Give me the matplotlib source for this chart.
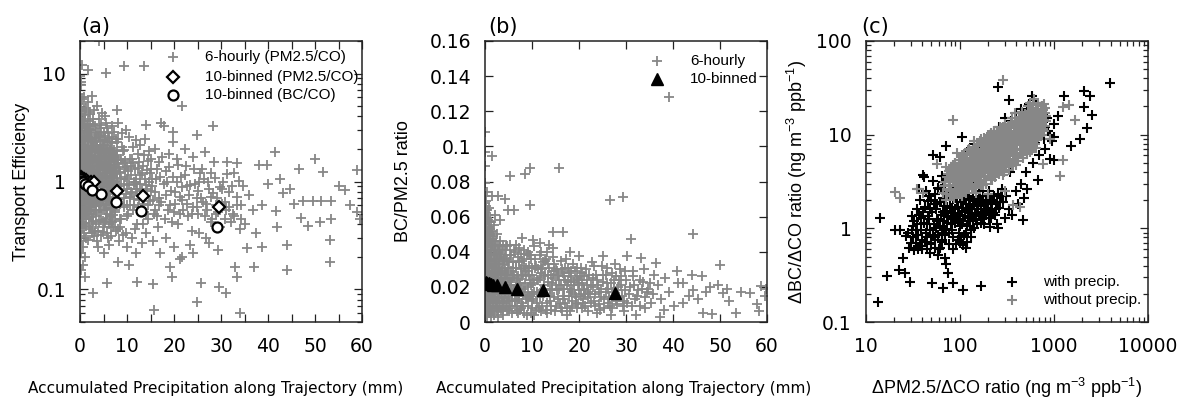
import numpy as np
import matplotlib
matplotlib.use("Agg")
import matplotlib.pyplot as plt
from matplotlib.ticker import MultipleLocator, FixedLocator, FuncFormatter, LogLocator, NullFormatter

plt.rcParams['font.family'] = ['DejaVu Sans']
plt.rcParams['mathtext.fontset'] = 'custom'
plt.rcParams['mathtext.rm'] = 'Liberation Sans'
plt.rcParams['mathtext.it'] = 'Liberation Sans'

GRAY = '#878787'
LAB = ['Liberation Sans', 'DejaVu Sans']

# ---------------- Panel (a): transport efficiency vs precipitation ----------------
a_hourly = [
    (0.1,2.1),(0.3,1.6),(0.2,0.9),(0.5,3.2),(0.4,0.55),(0.7,1.3),(0.9,2.6),(0.6,0.7),(1.1,1.8),(1.3,0.45),
    (1.0,4.1),(1.5,1.1),(1.8,2.2),(1.6,0.62),(2.0,3.0),(2.2,0.85),(2.5,1.5),(2.8,0.5),(2.4,2.7),(2.9,1.2),
    (0.2,5.2),(0.1,0.35),(0.3,0.28),(0.8,0.4),(1.2,0.3),(1.9,0.38),(2.6,0.33),(0.4,4.5),(0.9,3.8),(1.4,3.3),
    (0.15,1.25),(0.35,1.9),(0.55,2.4),(0.75,0.95),(0.95,1.55),(1.15,0.8),(1.35,2.0),(1.55,1.35),(1.75,0.72),(1.95,1.7),
    (2.15,1.05),(2.35,0.65),(2.55,2.0),(2.75,0.9),(2.95,2.3),(0.05,0.75),(0.25,0.5),(0.45,1.45),(0.65,3.6),(0.85,2.0),
    (1.05,0.58),(1.25,1.25),(1.45,0.5),(1.65,2.8),(1.85,1.0),(2.05,0.55),(2.25,1.9),(2.45,1.2),(2.65,0.75),(2.85,3.4),
    (0.1,6.5),(0.3,7.8),(0.2,0.22),(0.6,0.25),(1.0,0.2),(0.05,9.5),(0.5,5.8),(1.3,4.8),(2.2,4.2),(1.7,5.5),
    (0.7,0.5),(1.1,1.0),(1.6,1.9),(2.1,1.4),(2.6,1.1),(0.35,0.65),(0.85,1.1),(1.35,0.68),(1.85,0.45),(2.35,3.0),
    (3.1,1.7),(3.3,0.6),(3.5,2.5),(3.7,0.9),(3.9,1.3),(4.1,0.42),(4.3,3.1),(4.5,1.9),(4.7,0.7),(4.9,1.1),
    (5.1,2.2),(5.3,0.55),(5.5,1.5),(5.7,0.8),(5.9,2.8),(6.1,1.0),(6.3,0.48),(6.5,1.7),(6.7,0.65),(6.9,1.3),
    (3.2,0.35),(3.6,0.28),(4.0,3.8),(4.4,0.32),(4.8,2.4),(5.2,0.38),(5.6,3.5),(6.0,0.3),(6.4,2.3),(6.8,0.42),
    (3.4,1.15),(3.8,2.0),(4.2,0.75),(4.6,1.45),(5.0,0.6),(5.4,1.2),(5.8,0.5),(6.2,1.6),(6.6,0.95),(3.0,4.6),
    (3.5,0.48),(4.0,1.6),(4.5,0.55),(5.0,2.9),(5.5,0.45),(6.0,2.0),(6.5,0.38),(3.3,2.9),(4.8,0.88),(5.8,1.25),
    (3.9,0.25),(5.1,0.22),(6.2,0.26),(4.6,4.3),(3.6,5.0),(6.9,3.3),(5.3,4.0),(3.1,0.8),(4.3,1.0),(6.6,1.1),
    (7.2,1.5),(7.5,0.55),(7.9,2.3),(8.2,0.9),(8.5,1.2),(8.8,0.45),(9.1,1.9),(9.4,0.7),(9.7,3.0),(10.0,1.05),
    (10.3,0.5),(10.6,1.6),(10.9,0.8),(11.2,2.1),(11.5,0.6),(11.8,1.3),(12.1,0.4),(12.4,1.8),(12.7,0.95),(13.0,0.55),
    (13.3,1.4),(13.6,0.7),(13.9,2.5),(14.2,0.85),(14.5,0.45),(14.8,1.2),(7.6,0.35),(8.4,0.28),(9.2,0.32),(10.1,0.25),
    (11.0,0.3),(12.0,0.22),(13.1,0.27),(14.0,0.33),(7.8,4.6),(8.0,3.5),(9.0,2.8),(10.5,2.6),(12.8,2.2),(14.6,1.9),
    (7.3,1.0),(8.7,1.6),(9.9,0.6),(11.4,1.0),(12.6,0.68),(13.8,1.05),(7.1,0.7),(9.5,1.3),(11.9,0.85),(14.4,0.6),
    (15.3,0.9),(15.8,0.5),(16.4,1.3),(16.9,0.7),(17.5,1.7),(18.0,0.45),(18.6,1.0),(19.2,0.6),(19.8,2.3),(20.3,0.8),
    (20.9,0.4),(21.5,1.1),(22.0,0.55),(22.6,1.4),(23.2,0.75),(23.8,0.35),(24.4,0.95),(25.0,0.5),(25.6,1.2),(26.2,0.65),
    (26.8,0.3),(27.4,0.85),(28.0,0.45),(28.6,1.5),(29.2,0.7),(29.8,0.38),(30.4,1.0),(31.0,0.55),(31.6,0.8),(32.2,0.42),
    (32.8,1.2),(33.4,0.6),(34.0,0.36),(34.6,0.9),(15.6,0.28),(17.0,0.22),(18.3,0.3),(20.1,0.25),(21.8,0.2),(23.5,0.26),
    (16.0,2.0),(17.8,3.3),(18.9,1.8),(20.6,1.6),(22.4,2.0),(24.1,1.7),(26.0,1.3),(27.8,1.2),(16.8,0.6),(19.5,0.42),
    (21.2,0.72),(23.0,0.48),(24.8,0.7),(27.0,0.55),(28.9,0.6),(30.9,0.65),(32.5,0.5),(34.3,0.45),(15.2,1.6),(25.3,0.33),
    (4.0,19.8),(1.8,10.7),(5.5,10.1),(9.3,11.8),(13.7,11.7),(21.6,5.0),(17.2,3.47),(28.3,3.3),(24.8,2.7),(26.6,1.88),
    (19.7,2.9),(14.0,3.35),(41.5,1.88),(49.9,1.63),(58.9,1.27),(51.7,1.22),(46.6,1.3),(39.8,1.41),(38.0,1.43),(33.3,1.47),
    (31.2,1.5),(56.4,0.84),(51.3,0.66),(53.5,0.66),(49.6,0.66),(47.5,0.66),(44.6,0.85),(43.2,0.78),(41.8,0.53),(38.7,0.6),
    (36.8,0.55),(47.1,0.46),(48.5,0.39),(51.1,0.42),(53.3,0.45),(58.9,0.52),(53.1,0.29),(44.0,0.26),(38.7,0.25),(53.1,0.18),
    (44.0,0.15),(37.0,0.16),(33.0,0.16),(33.5,0.13),(29.5,0.105),(31.0,0.092),(25.8,0.115),(24.8,0.077),(34.1,0.06),(15.8,0.065),
    (12.2,0.118),(15.6,0.113),(5.8,0.115),(2.8,0.092),(19.5,0.13),(19.2,0.16),(21.2,0.19),(24.0,0.22),(27.5,0.27),(29.4,0.23),
    (0.3,0.15),(1.0,0.13),(0.6,0.17),(8.0,0.18),(10.5,0.17),(40.0,0.95),(42.5,1.05),(36.0,0.75),(45.5,0.62),(55.0,0.9),
    (59.5,0.45),(57.5,0.6),(37.5,0.33),(42.0,0.38),(35.5,0.24),(0.8,6.0),(2.5,6.2),(0.4,12.0),(0.2,8.4),
]
a_hourly_core = [
    (0.22,1.35),(0.58,0.78),(1.03,2.45),(1.47,0.92),(1.92,0.61),(2.31,1.62),(2.77,2.05),(3.18,0.71),(3.64,1.48),(4.09,0.52),
    (4.55,2.15),(5.02,1.32),(5.48,0.67),(5.93,1.83),(6.41,0.88),(6.86,2.6),(7.3,1.18),(7.74,0.6),(0.12,0.42),(0.49,2.85),
    (0.93,1.14),(1.38,1.72),(1.81,3.05),(2.26,0.47),(2.71,1.28),(3.13,2.52),(3.57,1.02),(4.02,0.63),(4.46,1.71),(4.93,0.43),
    (5.37,2.65),(5.82,0.97),(6.27,1.42),(6.73,0.56),(7.18,1.95),(7.62,0.83),(0.31,1.08),(0.74,1.83),(1.19,0.68),(1.63,2.35),
    (2.08,1.21),(2.52,0.58),(2.98,1.66),(3.42,0.84),(3.87,2.8),(4.31,1.27),(4.77,0.74),(5.21,1.63),(5.66,2.3),(6.12,0.61),
    (6.57,1.22),(7.03,0.49),(7.47,1.57),(7.91,1.08),(0.08,1.55),(0.41,0.62),(0.86,2.2),(1.29,1.46),(1.72,0.53),(2.17,2.6),
    (2.61,0.96),(3.06,1.35),(3.51,0.59),(3.96,1.88),(4.41,0.91),(4.86,1.5),(5.31,0.79),(5.76,1.08),(6.21,2.55),(6.66,1.58),
    (7.11,0.83),(7.56,2.45),(0.18,0.62),(0.63,1.17),(1.08,0.49),(1.53,2.65),(1.98,1.33),(2.43,0.73),(2.88,0.63),(3.33,1.98),
    (3.78,1.18),(4.23,2.35),(4.68,1.06),(5.13,0.72),(5.58,1.95),(6.03,1.37),(6.48,0.77),(6.93,1.85),(7.38,0.52),(7.83,1.45),
    (0.27,2.55),(0.71,0.41),(1.16,1.62),(1.61,0.82),(2.06,1.97),(2.51,1.38),(2.96,0.86),(3.41,1.55),(3.86,0.69),(4.33,1.95),
    (4.76,1.28),(5.23,1.02),(5.64,0.57),(6.11,1.73),(6.56,2.05),(7.01,1.12),(7.46,0.71),(7.94,1.92),(0.36,3.35),(0.81,1.29),
    (1.26,0.88),(1.71,1.52),(2.16,0.71),(2.63,2.25),(3.04,0.54),(3.53,1.27),(3.94,0.97),(4.43,2.7),(4.84,0.66),(5.33,1.43),
    (5.74,0.92),(6.23,1.07),(6.64,0.47),(7.13,1.41),(7.54,1.02),(0.04,2.75),(0.13,3.9),(0.52,1.7),(0.97,0.73),(1.42,2.05),
    (1.87,1.31),(2.32,0.93),(2.77,1.53),(3.22,1.08),(3.67,2.2),(4.12,1.42),(4.57,0.83),(5.02,1.76),(5.47,1.12),(5.92,0.71),
    (6.37,1.95),(6.82,0.93),(7.27,1.68),(7.72,1.25),(0.44,0.88),(0.89,0.58),(1.34,1.04),(1.79,2.6),(2.24,1.76),(2.69,0.43),
    (0.02,1.15),(0.06,0.58),(0.09,3.2),(0.14,0.97),(0.17,1.82),(0.24,0.71),(0.29,4.2),(0.33,1.28),(0.38,2.2),(0.46,1.03),
    (0.53,0.47),(0.61,2.05),(0.68,1.42),(0.77,0.86),(0.83,3.1),(0.91,1.66),(0.99,0.52),(1.07,1.33),(1.14,2.9),(1.22,0.96),
    (1.31,1.87),(1.44,0.74),(1.56,1.24),(1.67,3.6),(1.77,0.86),(1.89,1.95),(2.01,0.66),(2.12,1.58),(2.21,3.4),(2.37,1.13),
    (8.3,1.35),(8.6,0.62),(8.9,2.1),(9.3,0.95),(9.6,1.55),(9.9,0.48),(10.3,1.25),(10.7,0.72),(11.1,1.62),(11.5,0.95),
    (11.9,2.4),(12.3,0.58),(12.8,1.15),(13.2,0.82),(13.7,1.75),(14.1,0.5),(14.6,0.98),(15.1,1.3),(15.6,0.68),(16.2,1.05),
    (8.1,0.78),(8.8,1.05),(9.4,1.95),(10.1,0.85),(10.8,1.4),(11.3,0.55),(12.0,1.0),(12.6,1.5),(13.4,0.62),(14.3,1.28),
    (15.0,0.82),(16.0,0.55),(17.1,1.1),(18.2,0.75),(19.0,1.35),(19.9,0.52),(20.7,1.0),(21.6,0.68),(22.8,0.9),(24.0,0.58),
    (25.2,0.82),(26.5,0.48),(27.8,0.72),(29.0,0.5),(30.2,0.85),(8.5,0.38),(9.7,0.33),(11.7,0.36),(13.5,0.4),(16.5,0.38),
]
a_hourly_core2 = [
    (0.16,0.82),(0.39,1.52),(0.62,0.51),(0.84,1.25),(1.12,2.1),(1.37,0.57),(1.58,1.05),(1.83,1.62),(2.09,0.79),(2.33,2.35),
    (2.58,1.23),(2.83,0.71),(3.09,1.92),(3.34,1.02),(3.58,0.68),(3.83,1.64),(4.08,1.08),(4.32,0.59),(4.57,1.38),(4.82,2.05),
    (5.07,0.89),(5.32,1.71),(5.57,0.62),(5.82,1.46),(6.07,0.81),(6.32,1.24),(6.57,0.57),(6.82,1.66),(7.07,0.98),(7.32,1.33),
    (7.57,0.64),(7.82,0.92),(8.07,1.58),(8.32,0.69),(8.57,1.22),(8.82,0.84),(9.07,1.47),(9.32,0.58),(9.57,1.1),(9.82,0.77),
    (10.07,1.35),(10.32,0.92),(10.57,0.6),(10.82,1.16),(11.07,0.79),(11.32,1.49),(11.57,0.69),(11.82,1.05),(12.07,0.85),(12.32,1.32),
    (0.21,0.31),(0.53,0.37),(0.88,0.33),(1.27,0.39),(1.68,0.29),(2.11,0.36),(2.57,0.41),(3.01,0.31),(3.47,0.4),(3.92,0.35),
    (4.38,0.44),(4.83,0.34),(5.29,0.42),(5.74,0.33),(6.19,0.4),(6.64,0.31),(7.09,0.38),(7.54,0.43),(7.99,0.36),(8.45,0.45),
    (0.15,3.7),(0.47,2.3),(0.79,4.6),(1.14,3.4),(1.52,2.95),(1.91,4.4),(2.27,2.45),(2.68,3.8),(3.12,3.25),(3.55,2.15),
    (3.99,2.6),(4.45,3.35),(4.91,1.85),(5.36,2.4),(5.84,3.15),(6.29,1.9),(6.76,2.25),(7.21,2.9),(7.68,1.75),(8.14,2.5),
    (0.07,1.95),(0.34,0.82),(0.56,1.22),(0.79,0.63),(1.01,1.88),(1.24,1.15),(1.49,0.77),(1.74,1.38),(2.02,1.08),(2.28,0.55),
    (2.54,1.74),(2.81,1.02),(3.07,0.79),(3.36,1.24),(3.62,1.87),(3.89,0.82),(4.17,1.16),(4.44,1.52),(4.71,0.96),(4.99,0.67),
    (5.26,1.27),(5.54,1.82),(5.81,1.2),(6.08,0.72),(6.36,1.52),(6.63,0.85),(6.91,1.12),(7.19,0.61),(7.46,1.28),(7.74,1.68),
    (12.7,0.75),(13.1,1.2),(13.6,0.52),(14.0,0.93),(14.5,1.55),(14.9,0.66),(15.4,1.05),(15.9,0.8),(16.4,0.48),(16.8,1.5),
    (17.3,0.65),(17.8,0.95),(18.3,1.25),(18.8,0.55),(19.3,0.82),(19.8,1.1),(20.3,0.62),(20.8,1.42),(21.3,0.5),(21.8,0.88),
    (22.3,1.15),(22.8,0.62),(23.3,0.92),(23.8,0.5),(24.3,1.3),(24.8,0.58),(25.3,0.98),(25.8,0.7),(26.3,1.05),(26.8,0.62),
    (27.3,0.98),(27.8,0.42),(28.3,0.78),(28.8,1.08),(29.3,0.52),(29.8,0.88),(30.3,0.62),(30.8,0.45),(31.3,1.18),(31.8,0.58),
    (32.3,0.9),(32.8,0.48),(33.3,0.72),(33.8,1.02),(34.3,0.6),(35.0,0.4),
]
a_bin_pm_x = [0.2, 0.5, 0.8, 1.2, 1.7, 2.3, 3.0, 7.8, 13.5, 29.6]
a_bin_pm_y = [1.1, 1.08, 1.05, 1.03, 1.0, 0.98, 1.0, 0.82, 0.73, 0.58]
a_bin_bc_x = [0.2, 0.4, 0.6, 1.0, 1.6, 2.6, 4.4, 7.6, 13.0, 29.1]
a_bin_bc_y = [1.05, 1.02, 1.0, 0.95, 0.9, 0.83, 0.76, 0.65, 0.53, 0.38]

# ---------------- Panel (b): BC/PM2.5 ratio vs precipitation ----------------
b_hourly = [
    (0.12,0.004),(0.47,0.013),(0.08,0.021),(0.93,0.029),(0.31,0.037),(1.42,0.008),(0.66,0.045),(1.87,0.018),(0.19,0.052),(2.36,0.026),
    (1.11,0.033),(2.91,0.011),(0.54,0.061),(3.28,0.022),(1.63,0.041),(3.74,0.006),(2.07,0.031),(0.83,0.015),(4.21,0.017),(2.58,0.039),
    (0.27,0.069),(4.66,0.028),(1.29,0.024),(3.05,0.034),(0.71,0.007),(5.12,0.013),(1.96,0.009),(3.52,0.027),(0.39,0.019),(5.58,0.021),
    (2.44,0.046),(0.97,0.049),(4.03,0.036),(1.74,0.014),(2.83,0.003),(0.15,0.031),(4.49,0.009),(1.18,0.057),(3.36,0.016),(0.58,0.025),
    (5.87,0.031),(2.19,0.019),(0.86,0.038),(3.91,0.023),(1.52,0.028),(0.04,0.044),(4.88,0.019),(2.67,0.014),(1.33,0.005),(3.63,0.041),
    (0.44,0.009),(5.35,0.024),(2.02,0.055),(0.76,0.021),(4.31,0.03),(1.07,0.012),(3.17,0.008),(0.23,0.016),(2.74,0.024),(1.81,0.036),
    (5.01,0.006),(0.62,0.033),(3.83,0.012),(1.46,0.047),(2.29,0.011),(0.09,0.027),(4.59,0.035),(1.24,0.003),(0.37,0.041),(2.95,0.029),
    (0.18,0.062),(1.68,0.022),(3.44,0.019),(0.81,0.054),(2.51,0.008),(4.12,0.025),(0.51,0.004),(5.71,0.016),(1.39,0.031),(3.09,0.043),
    (0.29,0.048),(2.13,0.035),(0.69,0.017),(4.77,0.012),(1.91,0.026),(0.06,0.009),(3.58,0.031),(1.02,0.041),(2.61,0.018),(0.42,0.023),
    (0.03,0.056),(0.11,0.064),(0.21,0.059),(0.07,0.072),(0.33,0.051),(1.57,0.052),(0.89,0.065),(0.16,0.035),(2.39,0.033),(1.21,0.016),
    (0.0,0.108),(0.1,0.097),(1.4,0.0948),(0.05,0.089),(5.3,0.083),(0.4,0.074),(1.5,0.072),(2.8,0.072),(4.3,0.07),(8.5,0.084),
    (9.6,0.0875),(15.8,0.0875),(6.2,0.0638),(9.6,0.0666),(4.9,0.064),(2.1,0.061),(3.2,0.058),
    (6.3,0.012),(6.8,0.025),(7.2,0.034),(7.6,0.008),(8.1,0.019),(8.4,0.041),(8.9,0.014),(9.3,0.027),(9.8,0.005),(10.2,0.022),
    (10.7,0.031),(11.1,0.011),(11.6,0.038),(12.0,0.018),(12.5,0.026),(12.9,0.007),(13.4,0.033),(13.8,0.015),(14.3,0.022),(14.7,0.029),
    (15.2,0.009),(15.7,0.019),(16.1,0.035),(16.6,0.013),(17.0,0.024),(17.5,0.004),(17.9,0.028),(18.4,0.017),(18.8,0.033),(19.3,0.011),
    (19.7,0.021),(20.2,0.026),(20.6,0.008),(21.1,0.018),(21.5,0.03),(21.9,0.014),(6.6,0.044),(7.9,0.048),(9.1,0.04),(10.4,0.043),
    (11.8,0.045),(13.1,0.04),(14.5,0.037),(6.1,0.018),(7.0,0.005),(8.6,0.029),(9.9,0.016),(11.3,0.024),(12.7,0.035),(14.0,0.009),
    (15.5,0.027),(16.9,0.019),(18.2,0.024),(19.5,0.031),(20.9,0.013),(7.4,0.022),(10.0,0.012),(12.2,0.03),(16.3,0.006),(18.6,0.009),
    (10.3,0.0469),(14.5,0.042),(14.5,0.051),(16.5,0.051),(18.1,0.04),(20.1,0.0377),(9.4,0.038),(11.9,0.006),(13.6,0.044),(17.3,0.036),
    (22.5,0.021),(23.1,0.012),(23.7,0.027),(24.2,0.017),(24.8,0.032),(25.3,0.008),(25.9,0.022),(26.4,0.014),(27.0,0.028),(27.5,0.019),
    (28.1,0.01),(28.6,0.024),(29.2,0.015),(29.7,0.029),(30.3,0.011),(30.8,0.02),(31.4,0.026),(31.9,0.013),(32.5,0.018),(33.0,0.009),
    (33.6,0.023),(34.1,0.014),(34.7,0.019),(35.3,0.011),(35.8,0.016),(22.8,0.034),(25.0,0.0377),(27.6,0.033),(30.3,0.0377),(33.1,0.0364),
    (36.3,0.0335),(31.0,0.047),(26.5,0.0695),(29.3,0.071),(39.2,0.128),(44.2,0.05),(23.9,0.005),(26.8,0.004),(29.5,0.006),(32.2,0.004),
    (36.8,0.021),(37.5,0.013),(38.3,0.025),(39.1,0.017),(40.2,0.009),(41.0,0.022),(42.2,0.0107),(42.2,0.022),(43.5,0.015),(44.3,0.0183),
    (44.0,0.027),(46.1,0.026),(47.9,0.0202),(50.7,0.0164),(56.4,0.0164),(49.6,0.021),(50.1,0.0326),(58.7,0.0206),(59.6,0.015),(53.5,0.0053),
    (58.4,0.0063),(48.2,0.0046),(46.4,0.0054),(52.0,0.012),(54.5,0.017),(45.3,0.013),(38.0,0.007),(40.8,0.029),(36.0,0.027),(33.8,0.03),
    (59.8,0.019),(57.8,0.0105),(51.5,0.019),(47.0,0.017),(37.2,0.003),
]
b_hourly_core = [
    (0.03,0.012),(0.07,0.038),(0.11,0.049),(0.14,0.007),(0.17,0.043),(0.22,0.026),(0.26,0.011),(0.28,0.055),(0.32,0.02),(0.36,0.032),
    (0.41,0.047),(0.45,0.003),(0.49,0.039),(0.53,0.017),(0.57,0.052),(0.61,0.029),(0.64,0.012),(0.68,0.058),(0.72,0.036),(0.78,0.024),
    (0.82,0.045),(0.87,0.006),(0.91,0.019),(0.95,0.033),(0.99,0.053),(1.04,0.027),(1.09,0.008),(1.13,0.046),(1.17,0.022),(1.22,0.038),
    (1.26,0.051),(1.31,0.013),(1.36,0.041),(1.41,0.026),(1.45,0.018),(1.49,0.035),(1.54,0.006),(1.59,0.044),(1.64,0.03),(1.69,0.011),
    (1.73,0.049),(1.78,0.025),(1.84,0.039),(1.89,0.004),(1.94,0.021),(1.99,0.046),(2.04,0.013),(2.09,0.032),(2.14,0.027),(2.21,0.042),
    (2.26,0.009),(2.32,0.038),(2.37,0.018),(2.42,0.03),(2.48,0.05),(2.54,0.023),(2.59,0.012),(2.65,0.036),(2.7,0.044),(2.76,0.016),
    (2.81,0.028),(2.87,0.007),(2.93,0.04),(2.98,0.021),(0.05,0.065),(0.13,0.06),(0.24,0.066),(0.35,0.058),(0.46,0.064),(0.09,0.079),
    (3.05,0.013),(3.13,0.031),(3.22,0.046),(3.31,0.007),(3.39,0.025),(3.48,0.037),(3.57,0.014),(3.66,0.029),(3.75,0.044),(3.84,0.02),
    (3.93,0.004),(4.02,0.033),(4.11,0.011),(4.2,0.041),(4.29,0.021),(4.38,0.016),(4.47,0.038),(4.56,0.027),(4.65,0.007),(4.74,0.043),
    (4.84,0.025),(4.93,0.014),(5.03,0.034),(5.13,0.021),(5.23,0.044),(5.33,0.009),(5.43,0.029),(5.53,0.017),(5.63,0.038),(5.74,0.025),
    (5.84,0.005),(5.95,0.019),(6.06,0.034),(6.17,0.027),(6.28,0.009),(6.39,0.04),(6.5,0.017),(6.62,0.031),(6.73,0.021),(6.85,0.012),
    (6.97,0.037),(7.09,0.026),(7.21,0.015),(7.33,0.042),(7.46,0.007),(7.58,0.03),(7.71,0.019),(7.84,0.035),(7.97,0.011),(8.1,0.027),
    (8.23,0.036),(8.37,0.005),(8.5,0.022),(8.64,0.031),(8.78,0.013),(8.92,0.039),(9.06,0.02),(9.21,0.009),(9.35,0.032),(9.5,0.024),
    (9.65,0.015),(9.8,0.036),(9.95,0.008),
    (10.1,0.027),(10.35,0.017),(10.6,0.036),(10.85,0.007),(11.1,0.024),(11.35,0.03),(11.6,0.014),(11.85,0.028),(12.1,0.009),(12.35,0.034),
    (12.6,0.019),(12.85,0.027),(13.1,0.005),(13.35,0.023),(13.6,0.031),(13.85,0.012),(14.1,0.027),(14.35,0.018),(14.6,0.033),(14.85,0.006),
    (15.1,0.021),(15.35,0.029),(15.6,0.013),(15.85,0.024),(16.1,0.008),(16.35,0.03),(16.6,0.019),(16.85,0.026),(17.1,0.011),(17.35,0.021),
    (17.6,0.031),(17.85,0.015),(18.1,0.006),(18.35,0.026),(18.6,0.018),(18.85,0.023),(19.1,0.029),(19.35,0.014),(19.6,0.008),(19.85,0.024),
    (20.1,0.018),(20.35,0.031),(20.6,0.022),(20.85,0.011),(21.1,0.026),(21.35,0.016),(21.6,0.021),(21.85,0.006),(10.5,0.004),(12.0,0.04),
    (22.3,0.016),(22.9,0.025),(23.4,0.009),(24.0,0.021),(24.6,0.014),(25.1,0.027),(25.7,0.017),(26.2,0.011),(26.8,0.022),(27.3,0.015),
    (27.9,0.026),(28.4,0.018),(29.0,0.021),(29.5,0.012),(30.1,0.024),(30.6,0.016),(31.2,0.009),(31.7,0.021),(32.3,0.015),(32.9,0.024),
    (33.4,0.019),(34.0,0.008),(34.5,0.017),(35.1,0.022),(23.2,0.032),(26.0,0.031),(28.8,0.03),(31.5,0.029),(24.5,0.007),(27.0,0.008),
]
b_hourly_core2 = [
    (0.14,0.018),(0.34,0.009),(0.52,0.034),(0.73,0.047),(0.92,0.012),(1.12,0.026),(1.32,0.039),(1.52,0.021),(1.72,0.033),(1.93,0.015),
    (2.13,0.043),(2.33,0.025),(2.53,0.006),(2.73,0.031),(2.93,0.017),(3.13,0.039),(3.33,0.028),(3.53,0.008),(3.73,0.022),(3.93,0.035),
    (4.13,0.014),(4.33,0.027),(4.53,0.044),(4.73,0.019),(4.93,0.031),(5.13,0.008),(5.33,0.038),(5.53,0.023),(5.73,0.012),(5.93,0.027),
    (6.13,0.041),(6.33,0.019),(6.53,0.031),(6.73,0.006),(6.93,0.024),(7.13,0.035),(7.33,0.013),(7.53,0.022),(7.73,0.039),(7.93,0.027),
    (8.13,0.009),(8.33,0.032),(8.53,0.017),(8.73,0.026),(8.93,0.004),(9.13,0.029),(9.33,0.015),(9.53,0.038),(9.73,0.021),(9.93,0.031),
    (10.2,0.013),(10.5,0.024),(10.8,0.032),(11.1,0.017),(11.4,0.008),(11.7,0.025),(12.0,0.031),(12.3,0.015),(12.6,0.021),(12.9,0.036),
    (13.2,0.011),(13.5,0.027),(13.8,0.019),(14.1,0.007),(14.4,0.025),(14.7,0.014),(15.0,0.03),(15.3,0.018),(15.6,0.026),(15.9,0.01),
    (16.2,0.021),(16.5,0.028),(16.8,0.015),(17.1,0.031),(17.4,0.008),(17.7,0.023),(18.0,0.019),(18.3,0.029),(18.6,0.012),(18.9,0.021),
    (19.2,0.016),(19.5,0.025),(19.8,0.01),(20.1,0.022),(20.4,0.015),(20.7,0.028),(21.0,0.019),(21.3,0.009),(21.6,0.024),(21.9,0.017),
    (22.2,0.027),(22.6,0.011),(23.0,0.02),(23.4,0.016),(23.8,0.024),(24.2,0.01),(24.6,0.019),(25.0,0.023),(25.4,0.013),(25.8,0.027),
    (26.2,0.019),(26.6,0.009),(27.0,0.017),(27.4,0.024),(27.8,0.012),(28.2,0.02),(28.6,0.014),(29.0,0.026),(29.4,0.009),(29.8,0.018),
    (0.02,0.03),(0.06,0.047),(0.1,0.015),(0.04,0.068),(0.19,0.04),(0.25,0.05),(0.41,0.028),(0.58,0.043),(0.82,0.057),(1.05,0.05),
]
b_bin_x = [0.2, 0.5, 0.9, 1.3, 1.8, 2.5, 4.3, 6.9, 12.4, 27.7]
b_bin_y = [0.0225, 0.0222, 0.022, 0.0216, 0.0212, 0.021, 0.0198, 0.0188, 0.0184, 0.0165]

# ---------------- Panel (c): dBC/dCO vs dPM2.5/dCO ----------------
c_with = [
    (32,0.8),(35,1.1),(38,0.65),(41,1.5),(44,0.9),(47,1.25),(50,0.7),(53,1.8),(56,1.0),(60,0.6),
    (63,1.4),(66,2.1),(70,0.85),(74,1.15),(78,1.7),(82,0.95),(86,1.3),(90,2.4),(95,0.75),(100,1.05),
    (105,1.55),(110,2.0),(116,0.9),(122,1.2),(128,1.75),(135,2.6),(142,1.0),(150,1.4),(158,1.9),(166,1.15),
    (175,2.2),(185,1.5),(195,1.8),(205,2.5),(216,1.3),(228,2.0),(240,1.6),(252,2.3),(265,1.9),(280,2.6),
    (34,0.95),(39,1.3),(43,0.72),(48,1.6),(52,0.85),(57,1.2),(61,0.62),(67,1.0),(72,1.45),(77,0.68),
    (83,1.25),(88,1.6),(93,1.9),(98,1.35),(104,0.8),(109,1.2),(115,1.6),(121,2.2),(127,1.05),(133,1.45),
    (140,1.8),(147,1.25),(155,1.6),(163,2.0),(172,1.35),(181,1.1),(190,1.4),(200,1.65),(212,1.9),(224,1.45),
    (28,0.9),(30,0.7),(36,0.6),(45,0.6),(55,0.62),(65,0.75),(80,1.55),(92,0.68),(108,0.66),(120,0.72),
    (37,2.6),(42,3.5),(47,2.2),(52,3.2),(58,2.7),(64,3.6),(70,2.9),(76,4.1),(84,3.3),(62,5.8),
    (46,1.95),(54,2.3),(68,1.75),(85,2.05),(102,2.45),(118,2.8),(138,2.1),(160,2.5),(178,2.9),(198,2.2),
    (250,1.1),(300,1.3),(330,1.6),(360,1.4),(420,1.8),(480,2.1),(520,2.6),(470,1.22),(257,1.0),(208,1.03),
    (13.4,0.164),(14.2,1.28),(17,0.31),(20.5,0.96),(25,0.48),(22.8,0.36),(26,0.33),(29.5,0.27),(51,0.26),(67,0.23),
    (85,0.26),(109,0.22),(166,0.24),(75,0.33),(72,0.42),(70,0.48),(256,32.4),(336,23.3),(580,25.7),(1277,25.7),
    (2080,29),(2400,25.7),(2510,16.4),(2080,19.8),(2240,11.8),(3940,35.7),(1890,9.0),(1510,7.6),(1000,5.4),(682,3.3),
    (630,8.1),(105,9.4),(72,7.5),(52,6.1),(41,3.7),(31,1.34),(23,0.96),
    (120,6.5),(140,8.0),(160,7.0),(200,9.5),(230,11),(260,12),(300,15),(350,14),(400,17),(450,19),
    (520,18),(600,16),(700,14),(800,12),(900,10),(950,8.5),(850,15),(750,20),(650,22),(550,21),
    (700,6),(800,7),(600,5),(500,4),(450,3),(400,2.5),(900,5.5),(1000,9.5),(1100,16),(1000,13),
    (90,5),(100,4.2),(110,3.5),(130,4.6),(95,3.0),(150,3.1),(180,3.6),(210,4.3),(240,5.0),(280,6.1),
    (320,7.0),(380,8.2),(440,9.5),(510,11),(580,12.5),(660,10),(720,11.5),(780,9),(860,11),(340,4.0),
]
c_with_core = [
    (31,0.95),(33,1.2),(34,0.7),(36,0.85),(37,1.4),(39,0.95),(40,0.6),(42,1.15),(43,1.7),(45,0.8),
    (46,1.35),(48,0.95),(49,0.68),(51,1.5),(53,1.1),(54,0.8),(56,1.6),(58,1.25),(59,0.85),(61,1.9),
    (62,1.05),(64,0.72),(66,1.5),(68,1.2),(69,2.4),(71,0.95),(73,1.7),(75,1.35),(77,0.9),(79,2.1),
    (81,1.1),(83,1.65),(85,0.8),(87,1.45),(89,1.15),(91,2.2),(93,1.25),(96,1.7),(98,0.9),(101,1.4),
    (103,1.9),(106,1.1),(108,1.65),(111,0.85),(113,1.35),(117,1.8),(119,1.05),(123,1.55),(125,2.05),(129,1.3),
    (131,0.95),(136,1.6),(138,1.2),(143,1.95),(145,1.45),(151,1.1),(153,1.75),(159,1.35),(162,2.2),(168,1.6),
    (171,1.9),(177,1.3),(183,1.75),(188,2.0),(193,1.55),(202,1.3),(207,2.1),(214,1.6),(221,1.8),(231,2.2),
    (238,1.4),(246,1.9),(261,1.65),(272,2.2),(290,1.9),(310,2.2),(35,1.6),(38,2.0),(44,2.5),(50,2.0),
    (57,1.8),(63,2.6),(67,3.1),(73,2.3),(79,2.8),(88,2.7),(45,1.1),(40,0.75),(55,0.75),(65,0.9),
    (32,1.05),(29,0.62),(27,0.82),(33,0.58),(48,0.55),(58,0.52),(84,0.6),(100,0.7),(115,0.62),(130,0.8),
]
c_without = [
    (66,2.4),(70,3.1),(72,2.0),(75,3.8),(78,2.6),(80,4.4),(83,2.2),(85,3.3),(88,2.8),(90,5.0),
    (68,2.8),(74,2.3),(79,3.4),(86,2.1),(89,3.9),
    (92,2.5),(95,3.6),(97,4.6),(100,2.3),(102,5.4),(104,3.0),(107,4.0),(109,2.7),(112,6.0),(114,3.4),
    (117,2.4),(119,4.8),(122,3.8),(124,2.9),(127,5.6),(129,4.3),(93,6.3),(99,3.2),(106,2.2),(111,4.5),
    (116,3.1),(121,6.8),(126,2.6),(96,2.9),(103,4.2),(108,3.5),(118,5.1),(123,4.0),(128,3.3),(101,3.7),
    (131,3.0),(134,6.1),(137,4.5),(140,2.7),(143,7.2),(146,3.6),(149,5.3),(152,4.1),(155,8.0),(158,3.2),
    (161,6.2),(164,4.8),(167,3.8),(170,9.0),(173,5.6),(176,2.9),(179,7.0),(182,4.4),(185,3.5),(188,8.5),
    (191,5.2),(194,6.5),(197,3.9),(200,10.0),(133,3.9),(139,5.0),(145,2.9),(151,6.6),(157,4.5),(163,3.0),
    (169,5.0),(175,6.8),(181,3.3),(187,5.9),(193,4.7),(199,7.5),(136,3.4),(148,4.3),(160,5.5),(172,4.1),
    (184,6.3),(196,5.6),(142,8.5),(154,3.7),(166,7.8),(178,4.9),(190,3.0),(141,4.0),(153,5.7),(165,6.0),
    (205,4.2),(210,6.0),(215,8.0),(220,3.6),(225,5.2),(230,11.0),(235,6.8),(240,4.6),(245,9.0),(250,3.9),
    (255,5.8),(260,7.4),(265,12.0),(270,4.9),(275,6.4),(280,8.8),(285,3.7),(290,10.5),(295,5.5),(300,7.0),
    (305,13.0),(310,4.5),(315,8.2),(320,6.1),(208,5.0),(218,7.1),(228,4.1),(238,8.4),(248,6.2),(258,10.0),
    (268,4.4),(278,5.3),(288,7.8),(298,9.5),(308,5.9),(318,11.0),(212,3.4),(232,4.5),(252,5.0),(272,8.0),
    (292,4.2),(312,7.2),(222,9.6),(242,6.9),(262,5.4),(282,11.5),(302,5.1),(226,3.9),(246,7.6),(266,6.6),
    (325,9.4),(335,5.5),(345,12.5),(355,7.2),(365,4.8),(375,10.0),(385,6.4),(395,14.0),(405,8.0),(415,5.6),
    (425,11.5),(435,7.0),(445,15.5),(455,9.0),(465,6.0),(475,12.5),(485,8.3),(495,16.5),(330,7.6),(350,10.5),
    (370,8.6),(390,5.9),(410,11.0),(430,9.2),(450,6.8),(470,10.8),(490,13.5),(340,6.5),(360,15.0),(380,12.0),
    (400,6.9),(420,13.0),(440,10.2),(460,17.5),(480,7.4),(500,9.8),(347,8.8),(397,9.8),(447,12.0),(387,17.0),
    (510,11.5),(525,7.8),(540,14.5),(555,9.6),(570,18.0),(585,12.0),(600,8.6),(615,15.5),(630,10.5),(645,19.0),
    (660,13.0),(680,9.5),(700,16.0),(720,12.0),(740,20.0),(760,14.0),(780,11.0),(800,17.0),(530,20.0),(560,22.0),
    (590,10.0),(620,13.5),(650,16.5),(690,11.5),(730,15.0),(770,18.5),(545,11.0),(575,15.0),(605,20.5),(635,8.0),
    (670,22.0),(710,13.5),(750,10.0),(520,16.0),(580,6.8),(640,7.2),(820,14.0),(790,21.0),(610,24.0),(560,6.5),
    (290,38.2),(85,14.3),(20.5,2.47),(23,2.1),(1150,3.6),(1260,5.4),(1660,14.3),(1440,20.5),(1260,19.8),(370,1.77),
    (437,1.7),(760,4.9),(35,2.6),(41,2.4),(72,4.5),(57,4.9),(300,2.5),(200,2.3),(150,2.4),(900,9.0),
]
c_without_core = [
    (71,2.3),(73,3.5),(76,2.9),(77,4.1),(81,2.5),(82,3.7),(84,4.8),(87,2.4),(91,3.1),(94,4.2),(98,2.6),(99,5.3),
    (101,2.9),(103,4.9),(105,3.4),(106,6.0),(108,2.5),(110,4.1),(111,3.0),(113,5.6),(115,3.7),(116,2.6),
    (118,6.4),(120,4.4),(121,3.1),(123,5.0),(125,2.8),(126,7.0),(128,3.9),(130,4.7),(132,3.3),(133,6.4),
    (135,2.7),(137,5.3),(138,4.1),(140,7.4),(142,3.5),(144,5.9),(145,4.6),(147,2.8),(149,6.8),(150,3.8),
    (152,5.1),(154,7.6),(156,3.3),(158,6.0),(160,4.2),(162,8.6),(164,3.5),(166,5.4),(168,6.9),(170,2.9),
    (172,4.7),(174,8.1),(176,3.9),(178,6.2),(180,5.0),(183,9.3),(185,4.1),(187,7.1),(189,3.3),(192,5.8),
    (194,8.8),(196,4.4),(198,6.6),(201,3.6),(203,9.8),(205,5.3),(207,7.6),(210,4.0),(212,6.4),(214,10.5),
    (217,4.8),(219,3.3),(221,7.2),(224,5.6),(226,8.9),(229,4.3),(231,6.2),(234,3.5),(236,9.5),(239,5.0),
    (241,7.4),(244,4.1),(246,11.0),(249,5.9),
    (252,8.2),(255,4.5),(258,6.7),(261,3.8),(264,9.4),(267,5.3),(270,7.3),(273,11.2),(276,4.3),(279,6.0),
    (282,8.7),(285,5.1),(288,12.0),(291,6.8),(294,4.0),(297,9.0),(300,5.6),(304,11.5),(307,7.6),(311,4.6),
    (314,6.3),(318,9.8),(322,5.1),(325,12.5),(329,7.0),(333,4.2),(337,8.6),(341,6.0),(345,10.8),(349,5.0),
    (353,13.0),(357,7.8),(361,4.6),(365,9.5),(369,6.4),(373,11.8),(377,5.3),(381,8.4),(385,13.8),(389,7.0),
    (393,4.8),(397,10.5),
    (402,6.0),(408,12.5),(414,8.5),(420,5.2),(426,15.0),(432,7.8),(438,10.0),(444,6.2),(450,13.8),(456,8.0),
    (462,11.2),(468,5.6),(474,16.0),(480,9.2),(486,6.8),(492,12.0),(498,14.5),(505,8.0),(512,6.2),(520,12.8),
    (528,9.5),(536,17.0),(544,7.2),(552,13.0),(560,10.2),(568,15.8),(576,8.4),(585,19.0),(594,11.0),(603,7.6),
    (612,14.0),(621,17.5),(630,9.0),(640,12.0),(650,14.8),(660,8.8),(672,18.0),(684,11.0),(696,13.8),(708,9.6),
    (720,16.5),(735,12.8),(750,17.0),(765,11.5),(780,14.5),(795,19.5),(810,12.5),(830,16.0),
]

# ---------------------------------------------------------------------------
fig = plt.figure(figsize=(11.82, 4.03), dpi=100)
W, H = 1182.0, 403.0
axA = fig.add_axes([80/W, 81/H, 282/W, 281/H])
axB = fig.add_axes([485/W, 81/H, 282/W, 281/H])
axC = fig.add_axes([865.7/W, 81/H, 282.3/W, 281/H])

gfmt = FuncFormatter(lambda v, p: f'{v:g}')

def style(ax):
    ax.tick_params(which='both', direction='in', top=True, right=True,
                   labelsize=13.5, width=0.9, color='#222222')
    ax.tick_params(which='major', length=6)
    ax.tick_params(which='minor', length=3.5)
    ax.tick_params(axis='y', pad=10)
    ax.tick_params(axis='x', pad=11)
    for s in ax.spines.values():
        s.set_linewidth(1.1)
        s.set_color('#222222')

def leg_row(ax, x_m, x_t, y, label, **mk):
    ax.plot([x_m], [y], transform=ax.transAxes, clip_on=False, linestyle='none', **mk)
    ax.text(x_t, y, label, transform=ax.transAxes, va='center', ha='left',
            fontsize=11, family=LAB)

# ---- (a)
ax = axA
ax_x, ax_y = zip(*(a_hourly + a_hourly_core + a_hourly_core2))
ax.plot(ax_x, ax_y, '+', color=GRAY, ms=6.5, mew=1.3, linestyle='none')
ax.plot(a_bin_pm_x, a_bin_pm_y, 'D', ms=6.3, mfc='white', mec='black', mew=1.6, linestyle='none', zorder=4)
ax.plot(a_bin_bc_x, a_bin_bc_y, 'o', ms=7.2, mfc='white', mec='black', mew=1.6, linestyle='none', zorder=5)
ax.set_yscale('log')
ax.set_xlim(0, 60)
ax.set_ylim(0.05, 20)
ax.xaxis.set_major_locator(MultipleLocator(10))
ax.xaxis.set_minor_locator(MultipleLocator(5))
ax.yaxis.set_major_locator(FixedLocator([0.1, 1, 10]))
ax.yaxis.set_minor_locator(LogLocator(base=10, subs=np.arange(2, 10)))
ax.yaxis.set_major_formatter(gfmt)
ax.yaxis.set_minor_formatter(NullFormatter())
style(ax)
ax.tick_params(axis='x', which='minor', length=6)
ax.set_ylabel('Transport Efficiency', family=LAB, fontsize=13, va='center')
ax.yaxis.set_label_coords(-0.206, 0.5)
ax.set_xlabel('Accumulated Precipitation along Trajectory (mm)', fontsize=11, va='center')
ax.xaxis.set_label_coords(0.48, -0.235)
ax.text(0.005, 1.015, '(a)', transform=ax.transAxes, fontsize=15, va='bottom', ha='left')
leg_row(ax, 0.33, 0.443, 0.943, '6-hourly (PM2.5/CO)', marker='+', color=GRAY, ms=6.5, mew=1.3)
leg_row(ax, 0.33, 0.443, 0.872, '10-binned (PM2.5/CO)', marker='D', ms=6.3, mfc='white', mec='black', mew=1.6)
leg_row(ax, 0.33, 0.443, 0.808, '10-binned (BC/CO)', marker='o', ms=7.2, mfc='white', mec='black', mew=1.6)

# ---- (b)
ax = axB
bx, by = zip(*(b_hourly + b_hourly_core + b_hourly_core2))
ax.plot(bx, by, '+', color=GRAY, ms=6.5, mew=1.3, linestyle='none')
ax.plot(b_bin_x, b_bin_y, '^', ms=8.5, color='black', linestyle='none', zorder=4)
ax.set_xlim(0, 60)
ax.set_ylim(0, 0.16)
ax.xaxis.set_major_locator(MultipleLocator(10))
ax.yaxis.set_major_locator(MultipleLocator(0.02))
ax.yaxis.set_major_formatter(gfmt)
style(ax)
ax.set_ylabel('BC/PM2.5 ratio', family=LAB, fontsize=13, va='center')
ax.yaxis.set_label_coords(-0.29, 0.5)
ax.set_xlabel('Accumulated Precipitation along Trajectory (mm)', fontsize=11, va='center')
ax.xaxis.set_label_coords(0.49, -0.235)
ax.text(0.01, 1.015, '(b)', transform=ax.transAxes, fontsize=15, va='bottom', ha='left')
leg_row(ax, 0.61, 0.727, 0.929, '6-hourly', marker='+', color=GRAY, ms=6.5, mew=1.3)
leg_row(ax, 0.61, 0.727, 0.865, '10-binned', marker='^', ms=8.5, color='black')

# ---- (c)
ax = axC
cwx, cwy = zip(*(c_with + c_with_core))
cnx, cny = zip(*(c_without + c_without_core))
ax.plot(cwx, cwy, '+', color='black', ms=7.5, mew=1.5, linestyle='none')
ax.plot(cnx, cny, '+', color=GRAY, ms=7.5, mew=1.5, linestyle='none')
ax.set_xscale('log')
ax.set_yscale('log')
ax.set_xlim(10, 10000)
ax.set_ylim(0.1, 100)
for axis in (ax.xaxis, ax.yaxis):
    axis.set_major_locator(LogLocator(base=10))
    axis.set_minor_locator(LogLocator(base=10, subs=np.arange(2, 10)))
    axis.set_major_formatter(gfmt)
    axis.set_minor_formatter(NullFormatter())
style(ax)
ax.set_ylabel('ΔBC/ΔCO ratio (ng m$^{-3}$ ppb$^{-1}$)', family=LAB, fontsize=13, va='center')
ax.yaxis.set_label_coords(-0.245, 0.5)
ax.set_xlabel('ΔPM2.5/ΔCO ratio (ng m$^{-3}$ ppb$^{-1}$)', family=LAB, fontsize=13, va='center')
ax.xaxis.set_label_coords(0.5, -0.235)
ax.text(-0.014, 1.015, '(c)', transform=ax.transAxes, fontsize=15, va='bottom', ha='left')
leg_row(ax, 0.518, 0.628, 0.142, 'with precip.', marker='+', color='black', ms=7.5, mew=1.5)
leg_row(ax, 0.518, 0.628, 0.078, 'without precip.', marker='+', color=GRAY, ms=7.5, mew=1.5)

fig.savefig('out.png', dpi=100)
